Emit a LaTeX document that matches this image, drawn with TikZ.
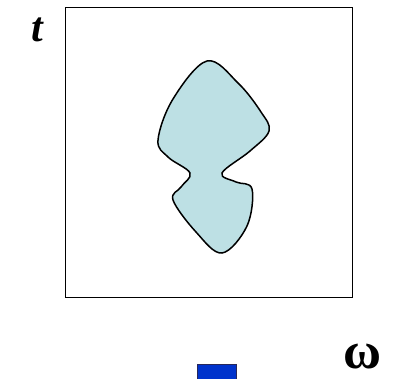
\documentclass[tikz,border=0pt]{standalone}
\usepackage{fontspec}
\setmainfont{Liberation Serif}
\begin{document}
\begin{tikzpicture}[
  x=1pt, y=-1pt,
  marco/.style={rectangle, draw, line width=1pt, anchor=north west,
                minimum width=287pt, minimum height=290pt},
  region/.style={draw, line width=1.5pt, fill={rgb,255:red,189;green,224;blue,228}},
  marca/.style={rectangle, draw={rgb,255:red,40;green,40;blue,90}, line width=0.6pt,
                fill={rgb,255:red,0;green,51;blue,204}, anchor=north west,
                minimum width=39pt, minimum height=20pt},
  etiq/.style={inner sep=0pt}
]
\useasboundingbox (0,0) rectangle (393,379);

% --- Marco tiempo-frecuencia ---
\node[marco] (plano) at (65,7) {};
\node[etiq, font=\fontsize{42}{42}\selectfont\bfseries\itshape] (t) at (37,30) {t};

% --- Region ---
\draw[region] plot[smooth cycle, tension=0.6] coordinates {
  (207,61) (238,83) (261,112) (269,131) (250,151) (222,173)
  (236,182) (252,189) (247,226) (222,253) (196,232) (173,200)
  (181,187) (190,173) (168,157) (158,140) (173,99)};

% --- Eje de frecuencia ---
\begin{scope}
\clip (0,0) rectangle (393,379);
\node[marca] (bloque) at (196.5,363.5) {};
\end{scope}
\node[etiq, font=\fontsize{52}{52}\selectfont\bfseries] (omega) at (362,357) {ω};

\end{tikzpicture}
\end{document}
